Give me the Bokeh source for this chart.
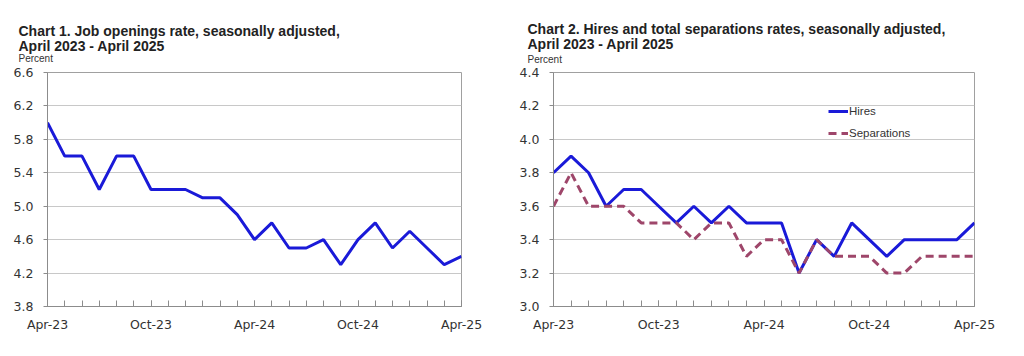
from bokeh.plotting import figure
from bokeh.layouts import row
from bokeh.models import (Range1d, FixedTicker, PrintfTickFormatter, Title, Legend, LegendItem)
from bokeh.embed import file_html
from bokeh.resources import INLINE

months = list(range(25))
month_labels = {0: "Apr-23", 6: "Oct-23", 12: "Apr-24", 18: "Oct-24", 24: "Apr-25"}
job_openings = [6.0, 5.6, 5.6, 5.2, 5.6, 5.6, 5.2, 5.2, 5.2, 5.1, 5.1, 4.9, 4.6,
                4.8, 4.5, 4.5, 4.6, 4.3, 4.6, 4.8, 4.5, 4.7, 4.5, 4.3, 4.4]
hires = [3.8, 3.9, 3.8, 3.6, 3.7, 3.7, 3.6, 3.5, 3.6, 3.5, 3.6, 3.5, 3.5,
         3.5, 3.2, 3.4, 3.3, 3.5, 3.4, 3.3, 3.4, 3.4, 3.4, 3.4, 3.5]
separations = [3.6, 3.8, 3.6, 3.6, 3.6, 3.5, 3.5, 3.5, 3.4, 3.5, 3.5, 3.3, 3.4,
               3.4, 3.2, 3.4, 3.3, 3.3, 3.3, 3.2, 3.2, 3.3, 3.3, 3.3, 3.3]
y1_ticks = [3.8, 4.2, 4.6, 5.0, 5.4, 5.8, 6.2, 6.6]
y2_ticks = [3.0, 3.2, 3.4, 3.6, 3.8, 4.0, 4.2, 4.4]

TITLE_FONT = "Liberation Sans"
TICK_FONT = "DejaVu Sans"
BLUE = "#1a1ad8"
MAROON = "#9e466a"


def make_fig(width, y_lo, y_hi, yticks, mb_left, mb_right, mb_top, mb_bottom,
             line1, line2, t_off, standoffs):
    s_gap, s_pct, s_l2, s_l1 = standoffs
    p = figure(width=width, height=350, output_backend="svg", toolbar_location=None,
               x_range=Range1d(0, 24), y_range=Range1d(y_lo, y_hi),
               min_border_left=mb_left, min_border_right=mb_right,
               min_border_top=mb_top, min_border_bottom=mb_bottom)
    p.outline_line_color = "#a0a0a0"
    p.background_fill_color = "white"
    p.border_fill_color = "white"
    p.xgrid.grid_line_color = None
    p.ygrid.grid_line_color = "#c8c8c8"
    p.ygrid.grid_line_width = 1

    p.xaxis.ticker = FixedTicker(ticks=list(month_labels.keys()), minor_ticks=months)
    p.xaxis.major_label_overrides = month_labels
    p.xaxis.major_tick_in = 6
    p.xaxis.major_tick_out = 0
    p.xaxis.minor_tick_in = 6
    p.xaxis.minor_tick_out = 0
    p.xaxis.major_label_standoff = 10

    p.yaxis.ticker = FixedTicker(ticks=yticks)
    p.yaxis.formatter = PrintfTickFormatter(format="%.1f")
    p.yaxis.major_tick_in = 0
    p.yaxis.major_tick_out = 4
    p.yaxis.major_label_standoff = 10

    for ax in (p.xaxis[0], p.yaxis[0]):
        ax.axis_line_color = "#8c8c8c"
        ax.major_tick_line_color = "#8c8c8c"
        ax.major_label_text_font = TICK_FONT
        ax.major_label_text_font_size = "12.5px"
        ax.major_label_text_color = "#333333"
    p.xaxis.minor_tick_line_color = "#8c8c8c"
    p.yaxis.minor_tick_line_color = None

    # titles: first added is nearest the frame; a tiny blank one makes the gap
    p.add_layout(Title(text=" ", text_font_size="1px", align="left",
                       offset=t_off, standoff=s_gap), "above")
    p.add_layout(Title(text="Percent", text_font=TITLE_FONT, text_font_size="10px",
                       text_font_style="normal", text_color="#333333", align="left",
                       offset=t_off, standoff=s_pct), "above")
    p.add_layout(Title(text=line2, text_font=TITLE_FONT, text_font_size="14px",
                       text_font_style="bold", text_color="#222222", align="left",
                       offset=t_off, standoff=s_l2), "above")
    p.add_layout(Title(text=line1, text_font=TITLE_FONT, text_font_size="14px",
                       text_font_style="bold", text_color="#222222", align="left",
                       offset=t_off, standoff=s_l1), "above")
    return p


p1 = make_fig(508, 3.8, 6.6, y1_ticks, 47, 47, 72, 43,
              "Chart 1. Job openings rate, seasonally adjusted,",
              "April 2023 - April 2025", -29, (6, 0, -6, -1))
p1.line(months, job_openings, line_color=BLUE, line_width=3)

p2 = make_fig(516, 3.0, 4.4, y2_ticks, 45, 50, 69, 44,
              "Chart 2. Hires and total separations rates, seasonally adjusted,",
              "April 2023 - April 2025", -26, (5, 0, -1, -5))
r_h = p2.line(months, hires, line_color=BLUE, line_width=3)
r_s = p2.line(months, separations, line_color=MAROON, line_width=3, line_dash="8 5")

legend = Legend(items=[LegendItem(label="Hires", renderers=[r_h]),
                       LegendItem(label="Separations", renderers=[r_s])],
                location=(275, 163), padding=0, margin=0, spacing=2,
                label_height=20, glyph_height=20, glyph_width=20, label_standoff=1,
                border_line_color=None, background_fill_alpha=0,
                label_text_font=TITLE_FONT, label_text_font_size="11.5px",
                label_text_color="#333333")
p2.add_layout(legend, "center")

layout = row(p1, p2)
open("out.html", "w").write(file_html(layout, INLINE))
